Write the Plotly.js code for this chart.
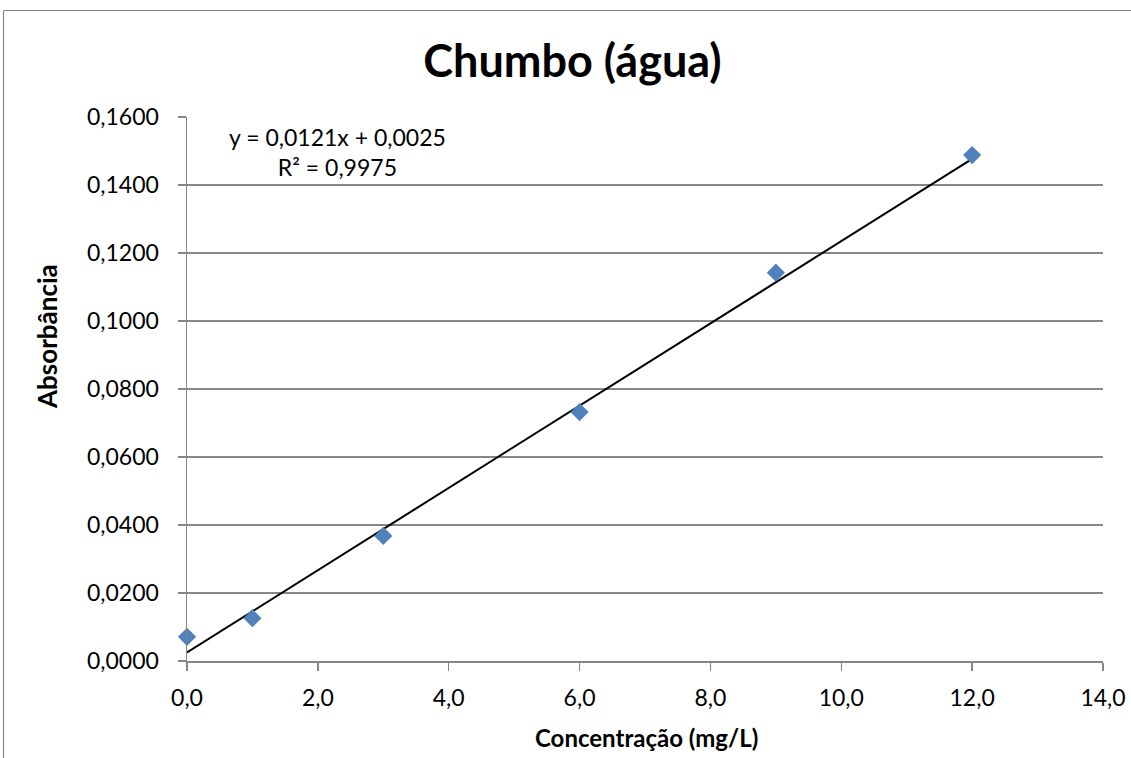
<!DOCTYPE html>
<html>
<head>
<meta charset="utf-8">
<script src="https://cdn.plot.ly/plotly-3.0.1.min.js"></script>
<style>
html,body{margin:0;padding:0;background:#fff;}
#chart{width:1131px;height:758px;}
</style>
</head>
<body>
<div id="chart"></div>
<script>
// Data
const concentracao = [0, 1, 3, 6, 9, 12];
const absorbancia = [0.0071, 0.0126, 0.0368, 0.0732, 0.1142, 0.1488];
// Linear trendline coefficients shown on the chart
const slope = 0.0121;
const intercept = 0.0025;
const r2Label = "R² = 0,9975";
const eqLabel = "y = 0,0121x + 0,0025";
const titleText = "Chumbo (água)";
const xTitle = "Concentração (mg/L)";
const yTitle = "Absorbância";

const xMin = Math.min(...concentracao), xMax = Math.max(...concentracao);
const trendX = [xMin, xMax];
const trendY = trendX.map(x => slope * x + intercept);

const font = "Lato, 'Open Sans', sans-serif";
const gridColor = "#868686";

const traces = [
  {
    x: trendX, y: trendY, type: "scatter", mode: "lines",
    line: {color: "#000000", width: 2}, hoverinfo: "skip", showlegend: false
  },
  {
    x: concentracao, y: absorbancia, type: "scatter", mode: "markers",
    marker: {symbol: "diamond", size: 14, color: "#4F81BD", line: {width: 0}},
    cliponaxis: false, showlegend: false
  }
];

// Plot area geometry in pixels (for frame and text placement)
const L = 187, R = 28, T = 117, B = 97, W = 1131, H = 758;
const pw = W - L - R, ph = H - T - B;
const px = v => (v - L) / pw;
const py = v => (H - B - v) / ph;

const layout = {
  width: W, height: H,
  margin: {l: L, r: R, t: T, b: B, pad: 0},
  paper_bgcolor: "#ffffff", plot_bgcolor: "#ffffff",
  separators: ",.",
  font: {family: font, color: "#000000", size: 22},
  title: {
    text: "<b>" + titleText + "</b>",
    font: {family: font, size: 45, color: "#000000"},
    xref: "container", x: 572.5 / W, xanchor: "center",
    yref: "container", y: 1 - 61 / H, yanchor: "middle"
  },
  xaxis: {
    range: [0, 14], dtick: 2, tick0: 0, tickformat: ".1f",
    showgrid: false, zeroline: false,
    showline: true, linecolor: gridColor, linewidth: 1.5,
    ticks: "outside", ticklen: 8, tickcolor: gridColor, tickwidth: 1.5,
    ticklabelstandoff: 8,
    tickfont: {family: font, size: 23, color: "#000000"},
    fixedrange: true
  },
  yaxis: {
    range: [0, 0.16], dtick: 0.02, tick0: 0, tickformat: ".4f",
    showgrid: true, gridcolor: gridColor, gridwidth: 1.5,
    zeroline: false,
    showline: true, linecolor: gridColor, linewidth: 1.5,
    ticks: "outside", ticklen: 8, tickcolor: gridColor, tickwidth: 1.5,
    ticklabelstandoff: 14,
    tickfont: {family: font, size: 23, color: "#000000"},
    fixedrange: true
  },
  annotations: [
    {
      xref: "paper", yref: "paper", x: px(337), y: py(152), xanchor: "center", yanchor: "middle",
      text: eqLabel + "<br>" + r2Label, showarrow: false, align: "center",
      font: {family: font, size: 23, color: "#000000"}
    },
    {
      xref: "paper", yref: "paper", x: px(646), y: py(737), xanchor: "center", yanchor: "middle",
      text: "<b>" + xTitle + "</b>", showarrow: false,
      font: {family: font, size: 24, color: "#000000"}
    },
    {
      xref: "paper", yref: "paper", x: px(47), y: py(337), xanchor: "center", yanchor: "middle",
      text: "<b>" + yTitle + "</b>", showarrow: false, textangle: -90,
      font: {family: font, size: 26, color: "#000000"}
    }
  ],
  shapes: [
    {type: "line", xref: "paper", yref: "paper", x0: px(3.5), x1: px(1131), y0: py(10.5), y1: py(10.5),
     line: {color: "#888888", width: 1.2}, layer: "above"},
    {type: "line", xref: "paper", yref: "paper", x0: px(3.5), x1: px(3.5), y0: py(10.5), y1: py(758),
     line: {color: "#888888", width: 1.2}, layer: "above"}
  ]
};

Plotly.newPlot("chart", traces, layout, {staticPlot: true, displayModeBar: false});
</script>
</body>
</html>
